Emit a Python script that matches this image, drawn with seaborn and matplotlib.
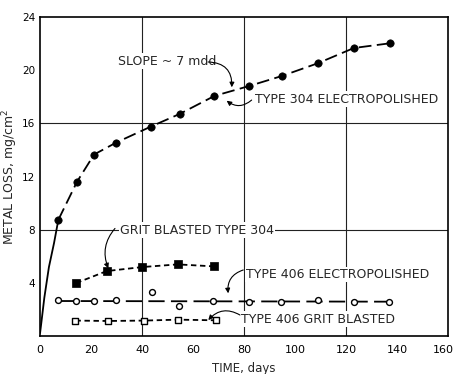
import matplotlib
matplotlib.use("Agg")
import matplotlib.pyplot as plt
import matplotlib.transforms as mtransforms
import seaborn as sns
import pandas as pd

# ---- data ----
days_304ep = [7.2, 14.5, 21.2, 29.9, 43.5, 54.8, 68.4, 82.1, 94.9, 108.9, 123.1, 137.1]
loss_304ep = [8.75, 11.6, 13.65, 14.55, 15.75, 16.7, 18.05, 18.8, 19.55, 20.5, 21.65, 22.0]
# early-time curve of the 304 electropolished data (solid part, from origin to first point)
days_304ep_curve = [0.0, 0.7, 1.7, 3.5, 5.5, 7.2]
loss_304ep_curve = [0.2, 1.3, 2.9, 5.2, 7.0, 8.75]

days_304gb = [14.2, 26.2, 40.1, 54.0, 68.2]
loss_304gb = [4.0, 4.9, 5.2, 5.4, 5.25]

days_406ep = [7.1, 14.2, 21.2, 29.8, 43.9, 54.5, 68.0, 82.0, 94.5, 108.9, 123.0, 136.9]
loss_406ep = [2.7, 2.67, 2.65, 2.75, 3.33, 2.3, 2.67, 2.57, 2.57, 2.75, 2.57, 2.55]
# drawn mean line for 406 electropolished
days_406ep_line = [7.1, 136.9]
loss_406ep_line = [2.65, 2.6]

days_406gb = [13.9, 26.5, 40.8, 54.1, 69.2]
loss_406gb = [1.18, 1.15, 1.18, 1.25, 1.2]

x_ticks = [0, 20, 40, 60, 80, 100, 120, 140, 160]
y_ticks = [0, 4, 8, 12, 16, 20, 24]
x_grid = [40, 80, 120]
y_grid = [8, 16]

sns.set_style("white")
plt.rcParams['font.family'] = ['DejaVu Sans']

fig = plt.figure(figsize=(4.55, 3.74), dpi=100)
ax = fig.add_axes([40/455, 1-336.3/374, 408/455, (336.3-16.7)/374])

K = 'black'
LW = 1.3

df_curve = pd.DataFrame({"d": days_304ep_curve, "m": loss_304ep_curve})
df_304ep = pd.DataFrame({"d": days_304ep, "m": loss_304ep})
df_304gb = pd.DataFrame({"d": days_304gb, "m": loss_304gb})
df_406ep = pd.DataFrame({"d": days_406ep, "m": loss_406ep})
df_406epl = pd.DataFrame({"d": days_406ep_line, "m": loss_406ep_line})
df_406gb = pd.DataFrame({"d": days_406gb, "m": loss_406gb})

def line(df, dashes=None):
    sns.lineplot(data=df, x="d", y="m", ax=ax, color=K, lw=LW, errorbar=None,
                 estimator=None, sort=False, zorder=3)
    ln = ax.lines[-1]
    if dashes is not None:
        ln.set_dashes(dashes)
    ln.set_solid_capstyle('butt')
    ln.set_dash_capstyle('butt')

line(df_curve)
line(df_304ep, (7, 3))
line(df_304gb, (3, 2))
line(df_406epl, (9, 3.5))
line(df_406gb, (3, 2))

sns.scatterplot(data=df_304ep, x="d", y="m", ax=ax, marker='o', s=28, color=K,
                edgecolor=K, linewidth=0.5, zorder=5)
sns.scatterplot(data=df_304gb, x="d", y="m", ax=ax, marker='s', s=28, color=K,
                edgecolor=K, linewidth=0.5, zorder=5)
sns.scatterplot(data=df_406ep, x="d", y="m", ax=ax, marker='o', s=18, color='white',
                edgecolor=K, linewidth=1.0, zorder=5)
sns.scatterplot(data=df_406gb, x="d", y="m", ax=ax, marker='s', s=18, color='white',
                edgecolor=K, linewidth=1.0, zorder=5)

ax.set_xlim(0, 160)
ax.set_ylim(0, 24)
ax.set_xticks(x_ticks)
ax.set_yticks(y_ticks)
ax.set_yticklabels(['' if v == 0 else str(v) for v in y_ticks])
ax.grid(False)
for gx in x_grid:
    ax.axvline(gx, color='#222222', lw=0.8, zorder=1)
for gy in y_grid:
    ax.axhline(gy, color='#222222', lw=0.8, zorder=1)
ax.tick_params(which='major', direction='in', length=7, width=0.9, labelsize=8,
               colors=K, top=False, right=False, pad=3.5)
ax.tick_params(axis='y', which='major', labelsize=7.5)
ax.tick_params(axis='x', which='major', pad=6)
for s in ax.spines.values():
    s.set_color(K)
    s.set_linewidth(1.2)

# last x tick label sits at the figure edge: nudge it slightly left
last = ax.xaxis.get_major_ticks()[-1].label1
last.set_transform(last.get_transform() +
                   mtransforms.ScaledTranslation(-5/100, 0, fig.dpi_scale_trans))

ax.set_xlabel("TIME, days", fontsize=8.5, labelpad=5)
ax.set_ylabel("METAL LOSS, mg/cm$^2$", fontsize=9, labelpad=1)

tb = dict(facecolor='white', edgecolor='none', pad=1.0)
fs = 9
ax.text(30.6, 20.67, "SLOPE ~ 7 mdd", fontsize=fs, ha='left', va='center', bbox=tb, zorder=6)
ax.text(84.3, 17.8, "TYPE 304 ELECTROPOLISHED", fontsize=fs, ha='left', va='center', bbox=tb, zorder=6)
ax.text(31.4, 7.98, "GRIT BLASTED TYPE 304", fontsize=fs, ha='left', va='center', bbox=tb, zorder=6)
ax.text(80.8, 4.65, "TYPE 406 ELECTROPOLISHED", fontsize=fs, ha='left', va='center', bbox=tb, zorder=6)
ax.text(78.7, 1.28, "TYPE 406 GRIT BLASTED", fontsize=fs, ha='left', va='center', bbox=tb, zorder=6)

ap = dict(arrowstyle='-|>', color=K, lw=0.8, mutation_scale=7, shrinkA=0, shrinkB=0)
def arrow(start, end, rad):
    p = dict(ap)
    p['connectionstyle'] = f'arc3,rad={rad}'
    ax.annotate('', xy=end, xytext=start, arrowprops=p, zorder=7)

arrow((65.9, 20.6), (75.2, 18.7), -0.5)
arrow((83.0, 17.74), (73.2, 17.69), -0.4)
arrow((29.4, 8.1), (26.8, 5.1), 0.3)
arrow((79.7, 4.98), (73.8, 3.23), 0.4)
arrow((78.4, 1.6), (66.0, 1.22), 0.4)

fig.savefig("out.png", dpi=100)
